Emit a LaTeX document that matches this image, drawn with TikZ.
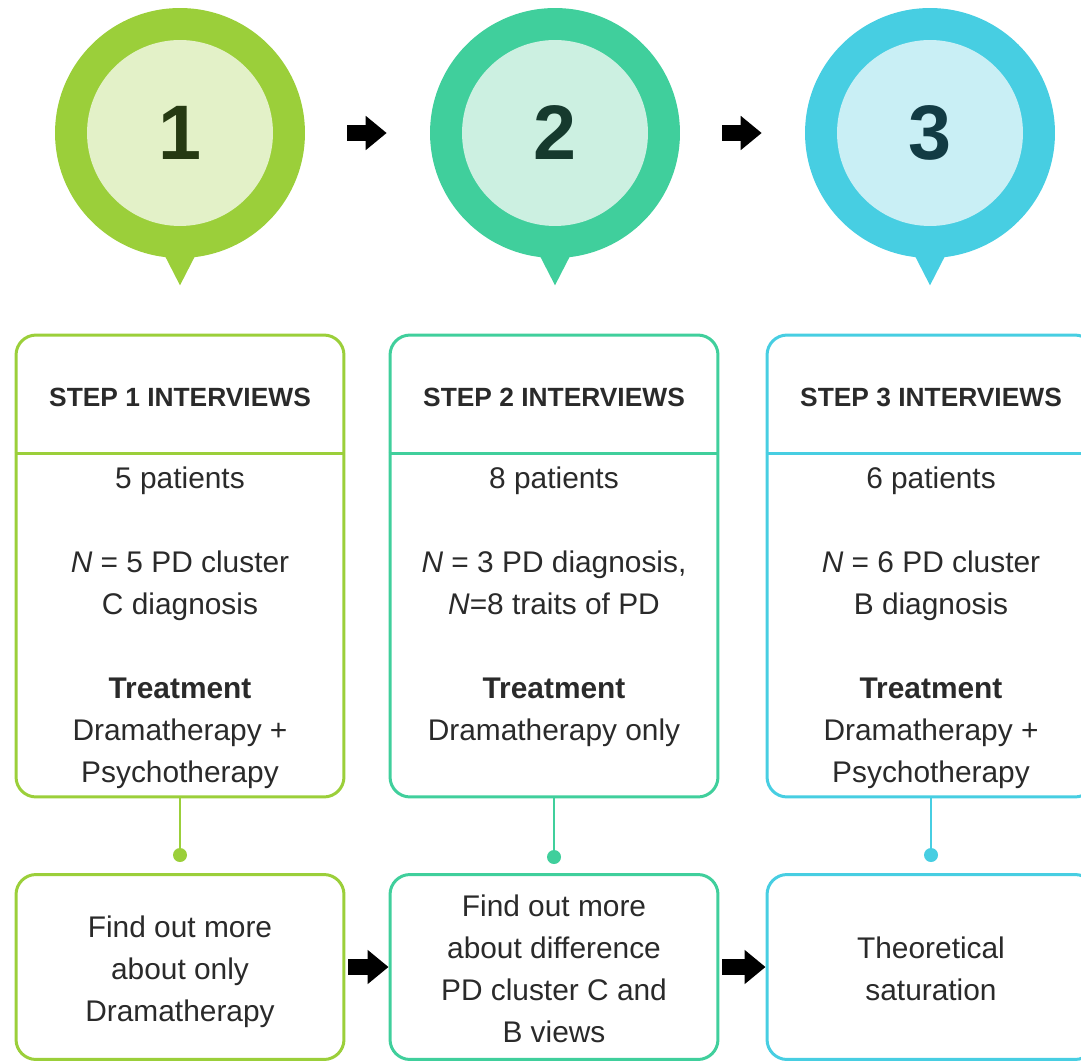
\documentclass[tikz,border=0pt]{standalone}
\usepackage{fontspec}
\setmainfont{Liberation Sans}
\usetikzlibrary{arrows.meta, calc}

\definecolor{limeA}{HTML}{9BCF3A}
\definecolor{limeB}{HTML}{E3F1C8}
\definecolor{limeC}{HTML}{263A12}
\definecolor{mintA}{HTML}{40CF9C}
\definecolor{mintB}{HTML}{CCF0E1}
\definecolor{mintC}{HTML}{163A2E}
\definecolor{skyA}{HTML}{47CEE2}
\definecolor{skyB}{HTML}{C9EFF5}
\definecolor{skyC}{HTML}{123B44}
\definecolor{ink}{HTML}{2A2A2A}

\tikzset{
  bubble/.style={circle, fill=#1, minimum size=5cm, inner sep=0pt},
  core/.style={circle, minimum size=3.72cm, inner sep=0pt, font=\fontsize{44}{44}\selectfont\bfseries},
  panel/.style={draw=#1, line width=0.06cm, rounded corners=0.4cm, minimum width=6.56cm, inner sep=0pt},
  head/.style={text=ink, font=\fontsize{15}{18}\selectfont\bfseries},
  body/.style={text=ink, align=center, font=\fontsize{17}{23.9}\selectfont},
  dot/.style={circle, fill=#1, minimum size=0.28cm, inner sep=0pt},
  fat/.style={line width=0.32cm, -{Triangle[length=0.42cm, width=0.66cm]}}
}

\begin{document}
\begin{tikzpicture}[x=0.02cm, y=-0.02cm]
    \useasboundingbox (0,0) rectangle (1081,1064);

    % numbered bubbles
    \node[bubble=limeA] (c1) at (180,133) {};
    \node[bubble=mintA] (c2) at (555,133) {};
    \node[bubble=skyA] (c3) at (930,133) {};
    \fill[limeA] ($(c1.south)+(-20,-12)$) -- ($(c1.south)+(20,-12)$) -- ($(c1.south)+(0,27)$) -- cycle;
    \fill[mintA] ($(c2.south)+(-20,-12)$) -- ($(c2.south)+(20,-12)$) -- ($(c2.south)+(0,27)$) -- cycle;
    \fill[skyA] ($(c3.south)+(-20,-12)$) -- ($(c3.south)+(20,-12)$) -- ($(c3.south)+(0,27)$) -- cycle;
    \node[core, fill=limeB, text=limeC] (n1) at (c1) {1};
    \node[core, fill=mintB, text=mintC] (n2) at (c2) {2};
    \node[core, fill=skyB, text=skyC] (n3) at (c3) {3};

    \draw[fat, shorten <=0.84cm, shorten >=0.86cm] (c1.east) -- (c2.west);
    \draw[fat, shorten <=0.84cm, shorten >=0.86cm] (c2.east) -- (c3.west);

    % interview boxes
    \node[panel=limeA, minimum height=9.24cm] (t1) at (180,566) {};
    \node[panel=mintA, minimum height=9.24cm] (t2) at (554,566) {};
    \node[panel=skyA, minimum height=9.24cm] (t3) at (931,566) {};
    \draw[limeA, line width=0.06cm] ($(t1.north west)+(0,120)$) -- ($(t1.north east)+(0,120)$);
    \draw[mintA, line width=0.06cm] ($(t2.north west)+(0,120)$) -- ($(t2.north east)+(0,120)$);
    \draw[skyA, line width=0.06cm] ($(t3.north west)+(0,120)$) -- ($(t3.north east)+(0,120)$);

    \node[head] (h1) at (180,397) {STEP 1 INTERVIEWS};
    \node[head] (h2) at (554,397) {STEP 2 INTERVIEWS};
    \node[head] (h3) at (931,397) {STEP 3 INTERVIEWS};

    \node[body] (p1) at (180,628) {5 patients\\[23.9pt]\textit{N} = 5 PD cluster\\C diagnosis\\[23.9pt]\textbf{Treatment}\\Dramatherapy +\\Psychotherapy};
    \node[body] (p2) at (554,607) {8 patients\\[23.9pt]\textit{N} = 3 PD diagnosis,\\\textit{N}=8 traits of PD\\[23.9pt]\textbf{Treatment}\\Dramatherapy only};
    \node[body] (p3) at (931,628) {6 patients\\[23.9pt]\textit{N} = 6 PD cluster\\B diagnosis\\[23.9pt]\textbf{Treatment}\\Dramatherapy +\\Psychotherapy};

    % aims
    \node[panel=limeA, minimum height=3.7cm] (a1) at (180,967) {};
    \node[panel=mintA, minimum height=3.7cm] (a2) at (554,967) {};
    \node[panel=skyA, minimum height=3.7cm] (a3) at (931,967) {};
    \node[body] (q1) at ($(a1)+(0,5)$) {Find out more\\about only\\Dramatherapy};
    \node[body] (q2) at ($(a2)+(0,2)$) {Find out more\\about difference\\PD cluster C and\\B views};
    \node[body] (q3) at ($(a3)+(0,2)$) {Theoretical\\saturation};

    \node[dot=limeA] (d1) at (180,855) {};
    \node[dot=mintA] (d2) at (554,857) {};
    \node[dot=skyA] (d3) at (931,855) {};
    \draw[limeA, line width=0.05cm] (t1.south) -- (d1);
    \draw[mintA, line width=0.05cm] (t2.south) -- (d2);
    \draw[skyA, line width=0.05cm] (t3.south) -- (d3);

    \draw[fat, shorten <=0.06cm] (a1.east) -- (a2.west);
    \draw[fat, shorten <=0.06cm] (a2.east) -- (a3.west);
\end{tikzpicture}
\end{document}
